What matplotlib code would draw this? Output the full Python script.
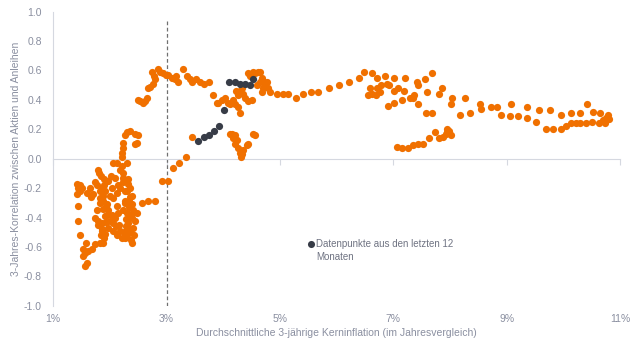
"""Streudiagramm: Aktien-Anleihen-Korrelation vs. Kerninflation."""

import matplotlib

matplotlib.use("Agg")
import matplotlib.pyplot as plt
from matplotlib.ticker import FuncFormatter

plt.rcParams["font.family"] = ["Liberation Sans", "DejaVu Sans"]

ORANGE = "#f07000"
DARK = "#373c47"
GREY_TXT = "#8a8fa0"
GREY_LINE = "#d5d8e0"

# Historische Datenpunkte: Kerninflation (%), 3-Jahres-Korrelation
hist_x = [
    1.44, 1.44, 1.48, 1.53, 1.56, 1.62, 1.60, 1.56, 1.69, 1.74, 1.83, 1.88,
    1.92, 1.86, 1.97, 2.06, 2.13, 2.21, 2.27, 2.39, 2.36, 2.41, 2.44, 2.39,
    2.30, 2.23, 2.32, 2.41, 2.48, 2.39, 2.34, 1.77, 1.74, 1.79, 1.86, 1.83,
    1.88, 1.95, 2.00, 2.06, 1.97, 2.13, 2.14, 2.00, 2.06, 2.57, 2.67, 2.80,
    1.42, 1.44, 1.42, 1.48, 1.51, 1.60, 1.65, 1.77, 1.74, 1.83, 1.88, 2.13,
    2.18, 2.39, 2.32, 2.36, 2.32, 2.23, 2.09, 2.02, 1.79, 1.81, 2.18, 2.23,
    2.06, 2.13, 2.21, 2.30, 2.21, 2.21, 2.23, 2.23, 2.27, 2.30, 2.36, 2.44,
    2.50, 2.48, 2.44, 1.92, 1.93, 2.27, 2.29, 2.18, 1.90, 1.97, 2.27, 2.14,
    1.84, 1.90, 1.86, 1.92, 1.82, 1.88, 1.95, 1.80, 1.86, 1.93, 1.84, 1.90,
    2.24, 2.30, 2.35, 2.26, 2.33, 2.38, 2.28, 2.34, 2.25, 2.31, 2.37, 2.42,
    2.03, 2.09, 2.11, 2.16, 2.04, 1.70, 1.66, 1.58, 1.52, 1.47,
    2.92, 3.02, 3.11, 3.22, 3.34, 3.45,
    2.50, 2.53, 2.58, 2.62, 2.65, 2.67, 2.71, 2.76, 2.80, 2.74, 2.78, 2.85,
    2.88, 2.94, 2.99, 3.02, 3.10, 3.15, 3.20, 3.17, 3.29, 3.36, 3.41, 3.45,
    3.52, 3.59, 3.66, 3.75, 3.82, 3.89,
    3.90, 3.98, 4.03, 4.08, 4.12, 4.17, 4.20, 4.26, 4.29, 4.22, 4.26, 4.29,
    4.35, 4.38, 4.43, 4.50, 4.33,
    4.43, 4.47, 4.52, 4.56, 4.61, 4.64, 4.68, 4.70, 4.64, 4.73, 4.77, 4.79,
    4.68, 4.70, 4.59, 4.82, 4.94,
    5.05, 5.15, 5.28, 5.40, 5.54, 5.68, 5.86, 6.04, 6.21, 6.39, 6.49, 6.62,
    6.72, 6.86, 7.02, 7.20, 7.55, 7.69,
    6.58, 6.56, 6.63, 6.69, 6.72, 6.79, 6.88, 6.93, 6.77, 7.02, 7.09, 7.18,
    7.16, 7.02, 6.90, 7.30, 7.34, 7.37, 7.44, 7.41, 7.44, 7.60, 7.81, 7.85,
    8.04, 8.01, 7.57, 7.69, 8.17, 8.27, 8.52, 8.54, 8.36, 8.73, 8.82, 8.90,
    9.05, 9.08, 9.20, 9.35, 9.36, 9.52, 9.56, 9.70, 9.77, 9.82, 9.96, 9.96,
    10.05, 10.14, 10.14, 10.23, 10.30, 10.30, 10.40, 10.42, 10.51, 10.52,
    10.63, 10.65, 10.70, 10.75, 10.79, 10.81, 10.74,
    7.06, 7.16, 7.25, 7.34, 7.43, 7.53, 7.62, 7.73, 7.81, 7.87, 7.94, 7.99,
    8.02, 7.92, 7.95,
    4.12, 4.15, 4.17, 4.20, 4.24, 4.20, 4.26, 4.29, 4.33, 4.31, 4.35, 4.42,
    4.43, 4.52, 4.56,
]
hist_y = [
    -0.32, -0.42, -0.52, -0.61, -0.64, -0.63, -0.71, -0.73, -0.61, -0.58, -0.57, -0.57,
    -0.51, -0.49, -0.47, -0.49, -0.52, -0.54, -0.54, -0.57, -0.50, -0.47, -0.42, -0.40,
    -0.37, -0.35, -0.44, -0.35, -0.37, -0.31, -0.29, -0.35, -0.40, -0.42, -0.44, -0.27,
    -0.29, -0.31, -0.25, -0.27, -0.35, -0.32, -0.37, -0.42, -0.44, -0.30, -0.29, -0.29,
    -0.17, -0.20, -0.24, -0.18, -0.20, -0.23, -0.20, -0.18, -0.16, -0.22, -0.25, -0.23,
    -0.20, -0.25, -0.17, -0.20, -0.14, -0.13, -0.13, -0.12, -0.08, -0.10, -0.08, -0.10,
    -0.03, -0.03, -0.05, -0.03, 0.01, 0.04, 0.07, 0.11, 0.16, 0.18, 0.19, 0.17,
    0.16, 0.11, 0.10, -0.39, -0.32, -0.29, -0.46, -0.49, -0.18, -0.15, -0.22, -0.18,
    -0.12, -0.14, -0.20, -0.22, -0.30, -0.34, -0.38, -0.45, -0.48, -0.43, -0.52, -0.54,
    -0.16, -0.22, -0.26, -0.30, -0.33, -0.38, -0.41, -0.48, -0.50, -0.53, -0.55, -0.52,
    -0.38, -0.40, -0.46, -0.45, -0.20, -0.24, -0.26, -0.57, -0.66, -0.22,
    -0.15, -0.15, -0.06, -0.03, 0.01, 0.15,
    0.40, 0.39, 0.38, 0.39, 0.41, 0.48, 0.49, 0.51, 0.54, 0.59, 0.56, 0.61,
    0.59, 0.58, 0.57, 0.57, 0.55, 0.54, 0.52, 0.56, 0.61, 0.56, 0.54, 0.52,
    0.54, 0.52, 0.51, 0.52, 0.43, 0.38,
    0.38, 0.40, 0.41, 0.38, 0.37, 0.40, 0.37, 0.35, 0.31, 0.46, 0.43, 0.46,
    0.44, 0.41, 0.39, 0.40, 0.48,
    0.58, 0.56, 0.59, 0.58, 0.59, 0.59, 0.55, 0.53, 0.52, 0.50, 0.52, 0.48,
    0.45, 0.48, 0.50, 0.45, 0.44,
    0.44, 0.44, 0.41, 0.44, 0.45, 0.45, 0.48, 0.50, 0.52, 0.55, 0.59, 0.58,
    0.55, 0.56, 0.55, 0.55, 0.54, 0.58,
    0.48, 0.43, 0.44, 0.43, 0.48, 0.50, 0.51, 0.50, 0.45, 0.46, 0.48, 0.46,
    0.40, 0.38, 0.36, 0.41, 0.41, 0.43, 0.37, 0.52, 0.50, 0.45, 0.44, 0.48,
    0.41, 0.37, 0.31, 0.31, 0.30, 0.41, 0.37, 0.34, 0.31, 0.35, 0.35, 0.30,
    0.29, 0.37, 0.29, 0.35, 0.28, 0.25, 0.33, 0.20, 0.33, 0.20, 0.30, 0.20,
    0.22, 0.31, 0.24, 0.24, 0.24, 0.31, 0.24, 0.37, 0.25, 0.32,
    0.24, 0.31, 0.26, 0.28, 0.30, 0.27, 0.24,
    0.08, 0.07, 0.07, 0.09, 0.10, 0.10, 0.14, 0.18, 0.14, 0.15, 0.18, 0.19,
    0.16, 0.17, 0.20,
    0.17, 0.17, 0.14, 0.16, 0.13, 0.10, 0.07, 0.04, 0.03, 0.01, 0.06, 0.09,
    0.10, 0.17, 0.16,
]

# Datenpunkte der letzten 12 Monate
recent_x = [3.55, 3.66, 3.75, 3.83, 3.92, 4.01, 4.10, 4.20, 4.29, 4.38, 4.47, 4.52]
recent_y = [0.12, 0.15, 0.16, 0.19, 0.22, 0.33, 0.52, 0.52, 0.51, 0.51, 0.50, 0.54]

x_ticks = [1, 3, 5, 7, 9, 11]
y_ticks = [-1.0, -0.8, -0.6, -0.4, -0.2, 0.0, 0.2, 0.4, 0.6, 0.8, 1.0]
threshold = 3.0
legend_x, legend_y = 5.54, -0.58
legend_text = "Datenpunkte aus den letzten 12\nMonaten"

fig = plt.figure(figsize=(6.4, 3.5), dpi=100)
ax = fig.add_axes([0.083, 0.126, 0.886, 0.841])

ax.scatter(hist_x, hist_y, s=27, color=ORANGE, linewidths=0, zorder=3)
ax.scatter(recent_x, recent_y, s=27, color=DARK, linewidths=0, zorder=4)

ax.plot([threshold, threshold], [-1.0, 0.95], color="#707070",
        linestyle=(0, (3, 2)), linewidth=0.9, zorder=2)

ax.scatter([legend_x], [legend_y], s=26, color=DARK, linewidths=0, zorder=4)
ax.text(legend_x + 0.1, legend_y + 0.035, legend_text, fontsize=7,
        color="#6f7382", va="top", ha="left", linespacing=1.35)

ax.set_xlim(1, 11)
ax.set_ylim(-1.0, 1.0)

for side in ("top", "right"):
    ax.spines[side].set_visible(False)
ax.spines["left"].set_color(GREY_LINE)
ax.spines["bottom"].set_position(("data", 0))
ax.spines["bottom"].set_color(GREY_LINE)

ax.set_xticks(x_ticks)
ax.tick_params(axis="x", direction="out", length=4, color=GREY_LINE,
               labelbottom=False)
ax.set_yticks(y_ticks)
ax.yaxis.set_major_formatter(FuncFormatter(lambda v, _: f"{v:.1f}"))
ax.tick_params(axis="y", length=0, labelsize=7.5, labelcolor=GREY_TXT, pad=8)

sec = ax.secondary_xaxis(0.0)
sec.set_xticks(x_ticks)
sec.set_xticklabels([f"{t}%" for t in x_ticks])
sec.spines["bottom"].set_visible(False)
sec.tick_params(length=0, labelsize=7.5, labelcolor=GREY_TXT, pad=6)
sec.set_xlabel("Durchschnittliche 3-jährige Kerninflation (im Jahresvergleich)",
               fontsize=7.5, color=GREY_TXT, labelpad=3)

ax.set_ylabel("3-Jahres-Korrelation zwischen Aktien und Anleihen",
              fontsize=7.5, color=GREY_TXT, labelpad=2)

fig.savefig("out.png", dpi=100)
